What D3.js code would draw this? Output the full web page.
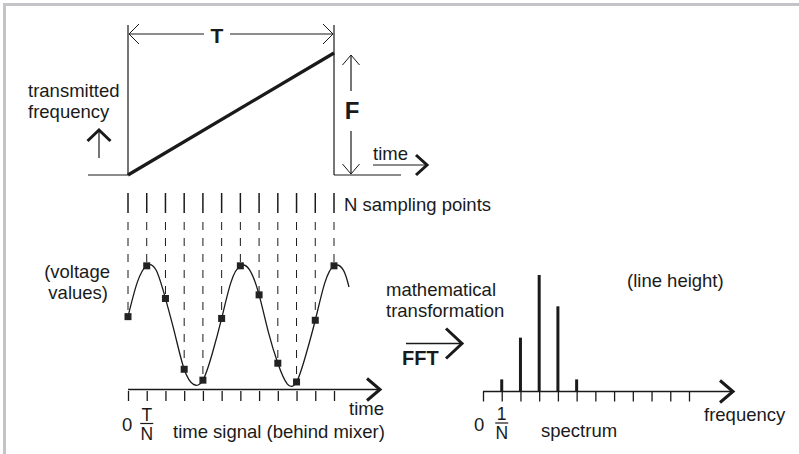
<!DOCTYPE html>
<html>
<head>
<meta charset="utf-8">
<script src="https://cdn.jsdelivr.net/npm/d3@7"></script>
<style>
  body { margin: 0; background: #fff; }
  svg text { font-family: "Liberation Sans", Arial, sans-serif; fill: #1a1a1a; }
</style>
</head>
<body>
<svg id="chart" width="799" height="454"></svg>
<script>
// transmitted frequency ramp (normalised time, normalised frequency)
const rampTime = [0, 1];
const rampFreq = [0, 1];

// sampled voltage values at the N sampling points
const sampleIndex  = [0, 1, 2, 3, 4, 5, 6, 7, 8, 9, 10, 11];
const sampleValues = [0.13, 0.97, 0.43, -0.74, -0.92, 0.10, 0.97, 0.49, -0.64, -0.95, 0.07, 0.97];

// points read along the continuous time signal
const curveTime  = [0, 0.5, 1, 1.5, 2, 2.5, 3, 3.5, 4, 4.5, 5, 5.5, 6, 6.5, 7, 7.5, 8, 8.5, 9, 9.5, 10, 10.5, 11, 11.5, 11.8];
const curveValue = [0.13, 0.70, 0.97, 0.90, 0.43, -0.15, -0.74, -0.99, -0.92, -0.48, 0.10, 0.70, 0.97, 0.90, 0.49, -0.13, -0.64, -0.98, -0.95, -0.50, 0.07, 0.68, 0.97, 0.90, 0.62];

// spectrum lines (frequency bin, relative line height)
const spectrumBins    = [1, 2, 3, 4, 5];
const spectrumHeights = [0.1, 0.46, 1.0, 0.73, 0.1];

// tick labels
const timeTickLabels = ["0", "T", "N"];
const freqTickLabels = ["0", "1", "N"];

let chart = d3.select("#chart");
const ink = "#1a1a1a";
const fs = "18.5px";

// frame (left and top)
chart.append("path")
    .attr("d", "M4.5,454V4.5H799")
    .attr("fill", "none")
    .attr("stroke", "#c3c3c8")
    .attr("stroke-width", 3);

// open chevron helper
function chevron(x, y, dx, dy, len, half, width) {
    // dx,dy is the unit direction the arrow points to
    let px = -dy, py = dx;
    let bx = x - dx * len, by = y - dy * len;
    chart.append("path")
        .attr("d", "M" + (bx + px * half) + "," + (by + py * half) + "L" + x + "," + y + "L" + (bx - px * half) + "," + (by - py * half))
        .attr("fill", "none")
        .attr("stroke", ink)
        .attr("stroke-width", width)
        .attr("stroke-linejoin", "miter");
}
function line(x1, y1, x2, y2, w) {
    return chart.append("line")
        .attr("x1", x1).attr("y1", y1).attr("x2", x2).attr("y2", y2)
        .attr("stroke", ink).attr("stroke-width", w || 1.2);
}
function label(txt, x, y, size, anchor) {
    return chart.append("text").text(txt)
        .attr("x", x).attr("y", y)
        .attr("text-anchor", anchor || "start")
        .style("font-size", size || fs);
}

// ---------- top: frequency ramp ----------
let xRamp = d3.scaleLinear().domain([0, 1]).range([128, 334]);
let yRamp = d3.scaleLinear().domain([0, 1]).range([175, 53]);

line(88, yRamp(0), xRamp(0), yRamp(0));
line(xRamp(1), yRamp(0), 401, yRamp(0));
line(xRamp(0), 25, xRamp(0), yRamp(0));
line(xRamp(1), 25, xRamp(1), yRamp(0));

chart.append("path")
    .datum(rampTime.map((t, i) => [t, rampFreq[i]]))
    .attr("d", d3.line().x(d => xRamp(d[0])).y(d => yRamp(d[1])))
    .attr("fill", "none")
    .attr("stroke", ink)
    .attr("stroke-width", 3.2);

// T dimension
line(xRamp(0) + 1, 34, 204, 34);
line(230, 34, xRamp(1) - 1, 34);
chevron(xRamp(0) + 1, 34, -1, 0, 10, 10, 1);
chevron(xRamp(1) - 1, 34, 1, 0, 10, 10, 1);
label("T", 217, 43, "21px", "middle").style("font-weight", "bold");

// F dimension
line(351, yRamp(1) + 2, 351, 91);
line(351, 131, 351, yRamp(0) - 1);
chevron(351, yRamp(1) + 2, 0, -1, 10, 8.5, 1);
chevron(351, yRamp(0) - 1, 0, 1, 10, 8.5, 1);
label("F", 352, 119, "24px", "middle").style("font-weight", "bold");

// time arrow
line(373, 165, 426, 165);
chevron(427, 165, 1, 0, 11, 10, 3);
label("time", 373, 160);

// transmitted frequency label + up arrow
label("transmitted", 28, 97);
label("frequency", 28, 118);
line(99, 131, 99, 158);
chevron(99, 130, 0, -1, 11, 11.5, 3);

// ---------- middle: sampling ----------
let xS = d3.scaleLinear().domain([0, 11]).range([128, 334]);
let yV = d3.scaleLinear().domain([-1, 1]).range([385, 264]);

chart.selectAll(".sampletick")
    .data(sampleIndex).enter()
    .append("line")
    .attr("class", "sampletick")
    .attr("x1", d => xS(d)).attr("x2", d => xS(d))
    .attr("y1", 193).attr("y2", 213)
    .attr("stroke", ink).attr("stroke-width", 1.5);

label("N sampling points", 344, 211);

chart.selectAll(".sampledash")
    .data(sampleIndex).enter()
    .append("line")
    .attr("class", "sampledash")
    .attr("x1", d => xS(d)).attr("x2", d => xS(d))
    .attr("y1", 222).attr("y2", (d, i) => yV(sampleValues[i]))
    .attr("stroke", ink).attr("stroke-width", 1)
    .attr("stroke-dasharray", "8,8");

chart.append("path")
    .datum(curveTime.map((t, i) => [t, curveValue[i]]))
    .attr("d", d3.line().x(d => xS(d[0])).y(d => yV(d[1])).curve(d3.curveNatural))
    .attr("fill", "none")
    .attr("stroke", ink)
    .attr("stroke-width", 1.3);

chart.selectAll(".marker")
    .data(sampleIndex).enter()
    .append("rect")
    .attr("class", "marker")
    .attr("x", d => xS(d) - 3.5)
    .attr("y", (d, i) => yV(sampleValues[i]) - 3.5)
    .attr("width", 7).attr("height", 7)
    .attr("fill", "#222");

label("(voltage", 110, 278, fs, "end");
label("values)", 108, 299, fs, "end");

// time axis
let timeAxis = d3.axisBottom(xS)
    .tickValues(sampleIndex)
    .tickSizeInner(10).tickSizeOuter(0)
    .tickFormat("");
let timeAxisGroup = chart.append("g")
    .attr("transform", "translate(0,391)")
    .call(timeAxis);
timeAxisGroup.select(".domain").remove();
timeAxisGroup.selectAll(".tick line").attr("stroke", ink).attr("stroke-width", 1.3);
line(xS(0), 389.5, 379, 389.5, 1.3);
chevron(380, 389.5, 1, 0, 13, 11, 3);

label(timeTickLabels[0], 122, 431, "18.5px");
label(timeTickLabels[1], xS(1), 421, "17.5px", "middle");
line(xS(1) - 6.5, 423.5, xS(1) + 6.5, 423.5, 1.2);
label(timeTickLabels[2], xS(1), 440, "17.5px", "middle");

label("time", 349, 415);
label("time signal (behind mixer)", 173, 438);

// ---------- FFT arrow ----------
label("mathematical", 386, 296);
label("transformation", 386, 317);
line(406, 343.5, 461, 343.5, 1.3);
chevron(462, 343.5, 1, 0, 16, 15, 3);
label("FFT", 402, 365, "20px").style("font-weight", "bold");

// ---------- right: spectrum ----------
let xF = d3.scaleLinear().domain([0, 11]).range([483, 689]);
let yH = d3.scaleLinear().domain([0, 1]).range([391, 275]);

let freqAxis = d3.axisBottom(xF)
    .tickValues(sampleIndex)
    .tickSizeInner(10).tickSizeOuter(0)
    .tickFormat("");
let freqAxisGroup = chart.append("g")
    .attr("transform", "translate(0,391.5)")
    .call(freqAxis);
freqAxisGroup.select(".domain").remove();
freqAxisGroup.selectAll(".tick line").attr("stroke", ink).attr("stroke-width", 1.3);
line(xF(0), 391.5, 732, 391.5, 1.3);
chevron(733, 391.5, 1, 0, 13, 11, 3);

chart.selectAll(".specline")
    .data(spectrumBins).enter()
    .append("line")
    .attr("class", "specline")
    .attr("x1", d => xF(d)).attr("x2", d => xF(d))
    .attr("y1", yH(0)).attr("y2", (d, i) => yH(spectrumHeights[i]))
    .attr("stroke", ink).attr("stroke-width", 3);

label("(line height)", 627, 287);

label(freqTickLabels[0], 474, 431, "18.5px");
label(freqTickLabels[1], xF(1), 420, "17.5px", "middle");
line(xF(1) - 6.5, 423, xF(1) + 6.5, 423, 1.2);
label(freqTickLabels[2], xF(1), 439, "17.5px", "middle");

label("frequency", 704, 421);
label("spectrum", 541, 437);
</script>
</body>
</html>
